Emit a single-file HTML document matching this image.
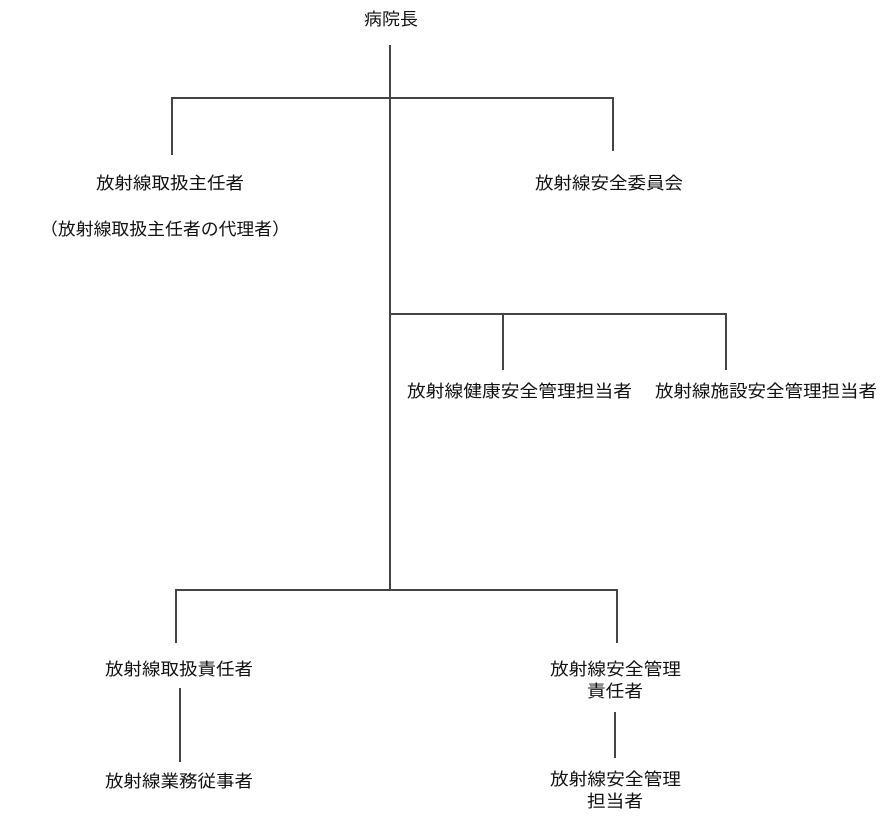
<!DOCTYPE html>
<html><head><meta charset="utf-8"><style>
html,body{margin:0;padding:0;background:#fff;}
svg{display:block;}
text{font-family:"Liberation Sans","Noto Sans CJK JP",sans-serif;font-size:17px;fill:#111;}
</style></head><body>
<svg width="895" height="821" viewBox="0 0 895 821" xmlns="http://www.w3.org/2000/svg">
<g stroke="#444" stroke-width="2" fill="none">
<line x1="390" y1="45" x2="390" y2="590"/>
<polyline points="172,155 172,98 613,98 613,151"/>
<polyline points="390,314 726,314 726,370"/>
<line x1="503" y1="314" x2="503" y2="370"/>
<polyline points="176,643 176,590 617,590 617,643"/>
<line x1="180" y1="688" x2="180" y2="762"/>
<line x1="615" y1="712" x2="615" y2="758"/>
</g>
<text x="364" y="25" textLength="54" lengthAdjust="spacingAndGlyphs">病院長</text>
<text x="96" y="189" textLength="148" lengthAdjust="spacingAndGlyphs">放射線取扱主任者</text>
<text x="40" y="235" textLength="250" lengthAdjust="spacingAndGlyphs">（放射線取扱主任者の代理者）</text>
<text x="535" y="189" textLength="148" lengthAdjust="spacingAndGlyphs">放射線安全委員会</text>
<text x="407" y="397" textLength="225" lengthAdjust="spacingAndGlyphs">放射線健康安全管理担当者</text>
<text x="655" y="397" textLength="222" lengthAdjust="spacingAndGlyphs">放射線施設安全管理担当者</text>
<text x="105" y="675" textLength="148" lengthAdjust="spacingAndGlyphs">放射線取扱責任者</text>
<text x="550" y="675" textLength="131" lengthAdjust="spacingAndGlyphs">放射線安全管理</text>
<text x="587" y="697" textLength="56" lengthAdjust="spacingAndGlyphs">責任者</text>
<text x="105" y="787" textLength="148" lengthAdjust="spacingAndGlyphs">放射線業務従事者</text>
<text x="550" y="785" textLength="131" lengthAdjust="spacingAndGlyphs">放射線安全管理</text>
<text x="587" y="807" textLength="56" lengthAdjust="spacingAndGlyphs">担当者</text>
</svg>
</body></html>
